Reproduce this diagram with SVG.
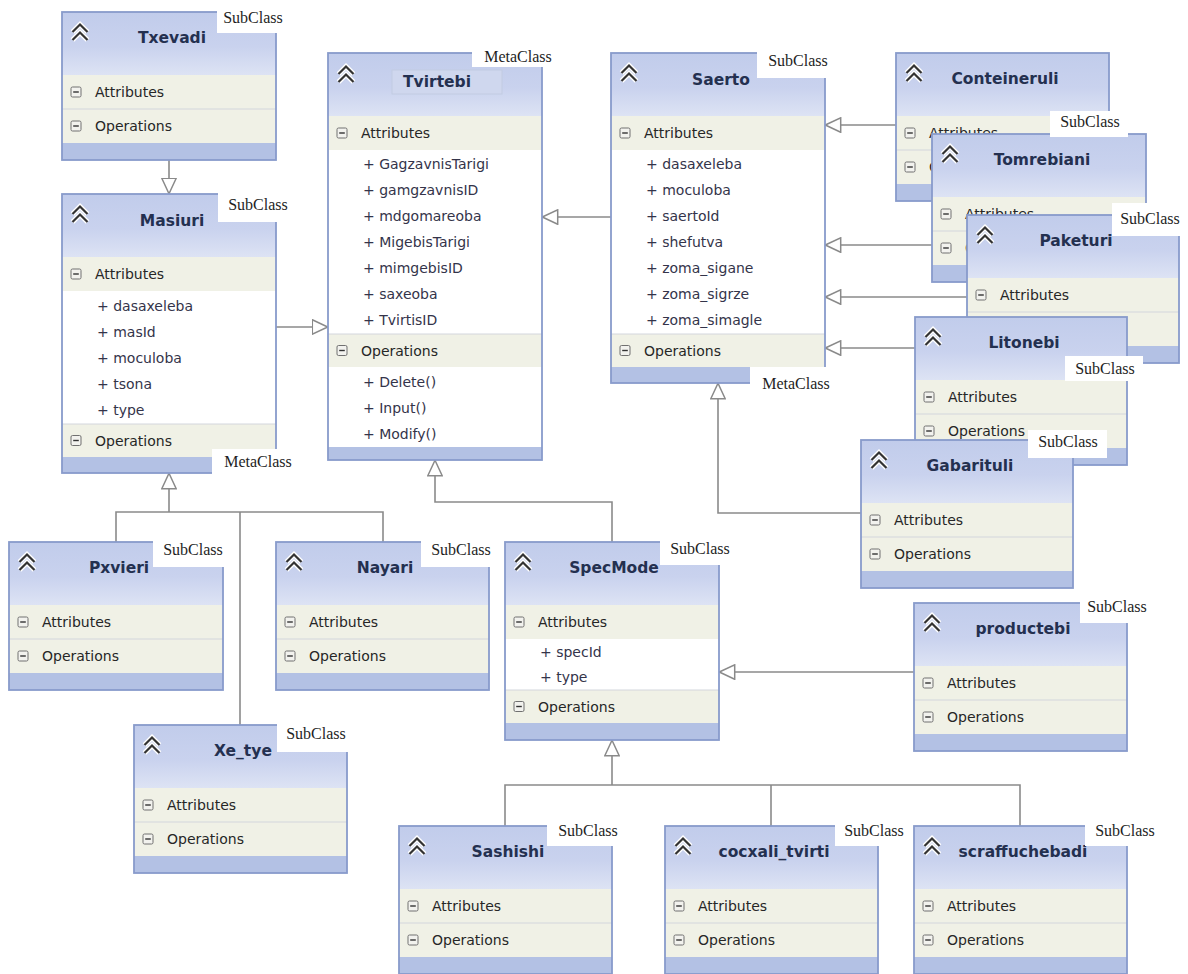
<svg xmlns="http://www.w3.org/2000/svg" xmlns:xlink="http://www.w3.org/1999/xlink" width="1188" height="974" viewBox="0 0 1188 974">
<style>
.hdr{fill:url(#hdrGrad)}
.cmp{fill:#f0f1e6}
.band{fill:#b3c1e4}
.frame{fill:none;stroke:#889bcb;stroke-width:1.8}
.body{fill:#ffffff}
.sep{stroke:#d3d6dc;stroke-width:1}
.t{font-family:"DejaVu Sans",sans-serif;font-size:15.5px;font-weight:bold;fill:#243050;text-anchor:middle}
.c{font-family:"DejaVu Sans",sans-serif;font-size:14px;fill:#262626}
.i{font-family:"DejaVu Sans",sans-serif;font-size:14px;fill:#34344a}
.lb{fill:#ffffff}
.l{font-family:"Liberation Serif",serif;font-size:16px;fill:#1e1e1e;text-anchor:middle}
.conn{fill:none;stroke:#8a8a8a;stroke-width:1.6}
.hl{fill:#cfd7ee;stroke:#c2cbe2;stroke-width:1}
</style>
<defs>
<linearGradient id="hdrGrad" x1="0" y1="0" x2="0" y2="1">
<stop offset="0" stop-color="#c1cceb"/>
<stop offset="0.55" stop-color="#c9d2ee"/>
<stop offset="1" stop-color="#dde3f4"/>
</linearGradient>
<marker id="tri" viewBox="0 0 17 16" refX="16.5" refY="8" markerWidth="17" markerHeight="16" markerUnits="userSpaceOnUse" orient="auto">
<path d="M0.8,0.8 L16.2,8 L0.8,15.2 Z" fill="#ffffff" stroke="#8a8a8a" stroke-width="1.5"/>
</marker>
<g id="chev">
<path d="M-7.5,0 L0,-7.5 L7.5,0 M-7.5,8 L0,0.5 L7.5,8" fill="none" stroke="#ffffff" stroke-width="5"/>
<path d="M-7.5,0 L0,-7.5 L7.5,0 M-7.5,8 L0,0.5 L7.5,8" fill="none" stroke="#333333" stroke-width="2.2"/>
</g>
<g id="minus">
<rect x="0" y="0" width="10" height="10" rx="1.5" fill="#f2f2ee" stroke="#707070" stroke-width="1"/>
<path d="M2.2,5 H7.8" stroke="#333333" stroke-width="1.4"/>
</g>
</defs>
<rect x="0" y="0" width="1188" height="974" fill="#ffffff"/>

<!-- generalisation connectors -->
<g id="connectors" class="conn">
<path d="M169,160 V194" marker-end="url(#tri)"/>
<path d="M276,327 H328" marker-end="url(#tri)"/>
<path d="M611,217 H542" marker-end="url(#tri)"/>
<path d="M896,125 H825" marker-end="url(#tri)"/>
<path d="M932,245 H825" marker-end="url(#tri)"/>
<path d="M967,297 H825" marker-end="url(#tri)"/>
<path d="M915,348 H825" marker-end="url(#tri)"/>
<path d="M861,513 H718 V383" marker-end="url(#tri)"/>
<path d="M612,542 V502 H435 V460" marker-end="url(#tri)"/>
<path d="M116,542 V512 H383 V542"/>
<path d="M240,725 V512"/>
<path d="M169,512 V473" marker-end="url(#tri)"/>
<path d="M914,672 H719" marker-end="url(#tri)"/>
<path d="M505,826 V785 H1020 V826"/>
<path d="M771,826 V785"/>
<path d="M612,785 V740" marker-end="url(#tri)"/>
</g>

<g id="Txevadi">
<rect class="body" x="62" y="12" width="214" height="148"/>
<rect class="hdr" x="62" y="12" width="214" height="63"/>
<rect class="cmp" x="62" y="75" width="214" height="34"/>
<rect class="cmp" x="62" y="109" width="214" height="34"/>
<rect class="band" x="62" y="143" width="214" height="17"/>
<line class="sep" x1="62" y1="109" x2="276" y2="109"/>
<rect class="frame" x="62" y="12" width="214" height="148"/>
<use xlink:href="#chev" x="80" y="32"/>
<text class="t" x="172" y="43">Txevadi</text>
<use xlink:href="#minus" x="71" y="87"/><text class="c" x="95" y="97">Attributes</text>
<use xlink:href="#minus" x="71" y="121"/><text class="c" x="95" y="131">Operations</text>
<rect class="lb" x="217" y="4" width="72" height="29"/><text class="l" x="253" y="23">SubClass</text>
</g>

<g id="Masiuri">
<rect class="body" x="62" y="194" width="214" height="279"/>
<rect class="hdr" x="62" y="194" width="214" height="63"/>
<rect class="cmp" x="62" y="257" width="214" height="34"/>
<rect class="cmp" x="62" y="424" width="214" height="33"/>
<rect class="band" x="62" y="457" width="214" height="16"/>
<line class="sep" x1="62" y1="424" x2="276" y2="424"/>
<rect class="frame" x="62" y="194" width="214" height="279"/>
<use xlink:href="#chev" x="80" y="214"/>
<text class="t" x="172" y="226">Masiuri</text>
<use xlink:href="#minus" x="71" y="269"/><text class="c" x="95" y="279">Attributes</text>
<text class="i" x="97" y="311">+ dasaxeleba</text>
<text class="i" x="97" y="337">+ masId</text>
<text class="i" x="97" y="363">+ moculoba</text>
<text class="i" x="97" y="389">+ tsona</text>
<text class="i" x="97" y="415">+ type</text>
<use xlink:href="#minus" x="71" y="435.5"/><text class="c" x="95" y="445.5">Operations</text>
<rect class="lb" x="218" y="186" width="74" height="36"/><text class="l" x="258" y="210">SubClass</text>
<rect class="lb" x="212" y="449" width="88" height="27"/><text class="l" x="258" y="467">MetaClass</text>
</g>

<g id="Tvirtebi">
<rect class="body" x="328" y="53" width="214" height="407"/>
<rect class="hdr" x="328" y="53" width="214" height="63"/>
<rect class="cmp" x="328" y="116" width="214" height="34"/>
<rect class="cmp" x="328" y="334" width="214" height="33"/>
<rect class="band" x="328" y="447" width="214" height="13"/>
<line class="sep" x1="328" y1="334" x2="542" y2="334"/>
<rect class="frame" x="328" y="53" width="214" height="407"/>
<rect class="hl" x="392" y="70" width="110" height="24"/>
<use xlink:href="#chev" x="346" y="74"/>
<text class="t" x="437" y="87">Tvirtebi</text>
<use xlink:href="#minus" x="337" y="128"/><text class="c" x="361" y="138">Attributes</text>
<text class="i" x="363" y="169">+ GagzavnisTarigi</text>
<text class="i" x="363" y="195">+ gamgzavnisID</text>
<text class="i" x="363" y="221">+ mdgomareoba</text>
<text class="i" x="363" y="247">+ MigebisTarigi</text>
<text class="i" x="363" y="273">+ mimgebisID</text>
<text class="i" x="363" y="299">+ saxeoba</text>
<text class="i" x="363" y="325">+ TvirtisID</text>
<use xlink:href="#minus" x="337" y="345.5"/><text class="c" x="361" y="355.5">Operations</text>
<text class="i" x="363" y="387">+ Delete()</text>
<text class="i" x="363" y="413">+ Input()</text>
<text class="i" x="363" y="439">+ Modify()</text>
<rect class="lb" x="472" y="42" width="88" height="25"/><text class="l" x="518" y="62">MetaClass</text>
</g>

<g id="Saerto">
<rect class="body" x="611" y="53" width="214" height="330"/>
<rect class="hdr" x="611" y="53" width="214" height="63"/>
<rect class="cmp" x="611" y="116" width="214" height="34"/>
<rect class="cmp" x="611" y="334" width="214" height="33"/>
<rect class="band" x="611" y="367" width="214" height="16"/>
<line class="sep" x1="611" y1="334" x2="825" y2="334"/>
<rect class="frame" x="611" y="53" width="214" height="330"/>
<use xlink:href="#chev" x="629" y="73"/>
<text class="t" x="721" y="85">Saerto</text>
<use xlink:href="#minus" x="620" y="128"/><text class="c" x="644" y="138">Attributes</text>
<text class="i" x="646" y="169">+ dasaxeleba</text>
<text class="i" x="646" y="195">+ moculoba</text>
<text class="i" x="646" y="221">+ saertoId</text>
<text class="i" x="646" y="247">+ shefutva</text>
<text class="i" x="646" y="273">+ zoma_sigane</text>
<text class="i" x="646" y="299">+ zoma_sigrze</text>
<text class="i" x="646" y="325">+ zoma_simagle</text>
<use xlink:href="#minus" x="620" y="345.5"/><text class="c" x="644" y="355.5">Operations</text>
<rect class="lb" x="757" y="44" width="77" height="34"/><text class="l" x="798" y="66">SubClass</text>
<rect class="lb" x="750" y="367" width="86" height="28"/><text class="l" x="796" y="389">MetaClass</text>
</g>

<g id="Conteineruli">
<rect class="hdr" x="896" y="53" width="213" height="63"/>
<rect class="cmp" x="896" y="116" width="213" height="34"/>
<rect class="cmp" x="896" y="150" width="213" height="34"/>
<rect class="band" x="896" y="184" width="213" height="17"/>
<line class="sep" x1="896" y1="150" x2="1109" y2="150"/>
<rect class="frame" x="896" y="53" width="213" height="148"/>
<use xlink:href="#chev" x="914" y="73"/>
<text class="t" x="1005" y="84">Conteineruli</text>
<use xlink:href="#minus" x="905" y="128"/><text class="c" x="929" y="138">Attributes</text>
<use xlink:href="#minus" x="905" y="162"/><text class="c" x="929" y="172">Operations</text>
</g>

<g id="Tomrebiani">
<rect class="hdr" x="932" y="134" width="214" height="63"/>
<rect class="cmp" x="932" y="197" width="214" height="34"/>
<rect class="cmp" x="932" y="231" width="214" height="34"/>
<rect class="band" x="932" y="265" width="214" height="17"/>
<line class="sep" x1="932" y1="231" x2="1146" y2="231"/>
<rect class="frame" x="932" y="134" width="214" height="148"/>
<use xlink:href="#chev" x="950" y="154"/>
<text class="t" x="1042" y="165">Tomrebiani</text>
<use xlink:href="#minus" x="941" y="209"/><text class="c" x="965" y="219">Attributes</text>
<use xlink:href="#minus" x="941" y="243"/><text class="c" x="965" y="253">Operations</text>
<rect class="lb" x="1050" y="111" width="78" height="26"/><text class="l" x="1090" y="127">SubClass</text>
</g>

<!-- lower compartment of this class lies under Litonebi -->
<g id="Paketuri">
<rect class="hdr" x="967" y="215" width="212" height="63"/>
<rect class="cmp" x="967" y="278" width="212" height="34"/>
<rect class="cmp" x="967" y="312" width="212" height="34"/>
<rect class="band" x="967" y="346" width="212" height="17"/>
<line class="sep" x1="967" y1="312" x2="1179" y2="312"/>
<rect class="frame" x="967" y="215" width="212" height="148"/>
<use xlink:href="#chev" x="985" y="235"/>
<text class="t" x="1076" y="246">Paketuri</text>
<use xlink:href="#minus" x="976" y="290"/><text class="c" x="1000" y="300">Attributes</text>
<rect class="lb" x="1112" y="203" width="76" height="33"/><text class="l" x="1150" y="224">SubClass</text>
</g>

<g id="Litonebi">
<rect class="hdr" x="915" y="317" width="212" height="63"/>
<rect class="cmp" x="915" y="380" width="212" height="34"/>
<rect class="cmp" x="915" y="414" width="212" height="34"/>
<rect class="band" x="915" y="448" width="212" height="17"/>
<line class="sep" x1="915" y1="414" x2="1127" y2="414"/>
<rect class="frame" x="915" y="317" width="212" height="148"/>
<use xlink:href="#chev" x="933" y="337"/>
<text class="t" x="1024" y="348">Litonebi</text>
<use xlink:href="#minus" x="924" y="392"/><text class="c" x="948" y="402">Attributes</text>
<use xlink:href="#minus" x="924" y="426"/><text class="c" x="948" y="436">Operations</text>
<rect class="lb" x="1065" y="356" width="78" height="25"/><text class="l" x="1105" y="374">SubClass</text>
</g>

<g id="Gabarituli">
<rect class="hdr" x="861" y="440" width="212" height="63"/>
<rect class="cmp" x="861" y="503" width="212" height="34"/>
<rect class="cmp" x="861" y="537" width="212" height="34"/>
<rect class="band" x="861" y="571" width="212" height="17"/>
<line class="sep" x1="861" y1="537" x2="1073" y2="537"/>
<rect class="frame" x="861" y="440" width="212" height="148"/>
<use xlink:href="#chev" x="879" y="460"/>
<text class="t" x="970" y="471">Gabarituli</text>
<use xlink:href="#minus" x="870" y="515"/><text class="c" x="894" y="525">Attributes</text>
<use xlink:href="#minus" x="870" y="549"/><text class="c" x="894" y="559">Operations</text>
<rect class="lb" x="1028" y="430" width="79" height="28"/><text class="l" x="1068" y="447">SubClass</text>
</g>

<g id="productebi">
<rect class="hdr" x="914" y="603" width="213" height="63"/>
<rect class="cmp" x="914" y="666" width="213" height="34"/>
<rect class="cmp" x="914" y="700" width="213" height="34"/>
<rect class="band" x="914" y="734" width="213" height="17"/>
<line class="sep" x1="914" y1="700" x2="1127" y2="700"/>
<rect class="frame" x="914" y="603" width="213" height="148"/>
<use xlink:href="#chev" x="932" y="623"/>
<text class="t" x="1023" y="634">productebi</text>
<use xlink:href="#minus" x="923" y="678"/><text class="c" x="947" y="688">Attributes</text>
<use xlink:href="#minus" x="923" y="712"/><text class="c" x="947" y="722">Operations</text>
<rect class="lb" x="1080" y="596" width="72" height="27"/><text class="l" x="1117" y="612">SubClass</text>
</g>

<g id="SpecMode">
<rect class="body" x="505" y="542" width="214" height="198"/>
<rect class="hdr" x="505" y="542" width="214" height="63"/>
<rect class="cmp" x="505" y="605" width="214" height="34"/>
<rect class="cmp" x="505" y="690" width="214" height="33"/>
<rect class="band" x="505" y="723" width="214" height="17"/>
<line class="sep" x1="505" y1="690" x2="719" y2="690"/>
<rect class="frame" x="505" y="542" width="214" height="198"/>
<use xlink:href="#chev" x="523" y="562"/>
<text class="t" x="614" y="573">SpecMode</text>
<use xlink:href="#minus" x="514" y="617"/><text class="c" x="538" y="627">Attributes</text>
<text class="i" x="540" y="657">+ specId</text>
<text class="i" x="540" y="682">+ type</text>
<use xlink:href="#minus" x="514" y="701.5"/><text class="c" x="538" y="711.5">Operations</text>
<rect class="lb" x="660" y="536" width="76" height="29"/><text class="l" x="700" y="554">SubClass</text>
</g>

<g id="Pxvieri">
<rect class="hdr" x="9" y="542" width="214" height="63"/>
<rect class="cmp" x="9" y="605" width="214" height="34"/>
<rect class="cmp" x="9" y="639" width="214" height="34"/>
<rect class="band" x="9" y="673" width="214" height="17"/>
<line class="sep" x1="9" y1="639" x2="223" y2="639"/>
<rect class="frame" x="9" y="542" width="214" height="148"/>
<use xlink:href="#chev" x="27" y="562"/>
<text class="t" x="119" y="573">Pxvieri</text>
<use xlink:href="#minus" x="18" y="617"/><text class="c" x="42" y="627">Attributes</text>
<use xlink:href="#minus" x="18" y="651"/><text class="c" x="42" y="661">Operations</text>
<rect class="lb" x="153" y="536" width="75" height="31"/><text class="l" x="193" y="555">SubClass</text>
</g>

<g id="Nayari">
<rect class="hdr" x="276" y="542" width="213" height="63"/>
<rect class="cmp" x="276" y="605" width="213" height="34"/>
<rect class="cmp" x="276" y="639" width="213" height="34"/>
<rect class="band" x="276" y="673" width="213" height="17"/>
<line class="sep" x1="276" y1="639" x2="489" y2="639"/>
<rect class="frame" x="276" y="542" width="213" height="148"/>
<use xlink:href="#chev" x="294" y="562"/>
<text class="t" x="385" y="573">Nayari</text>
<use xlink:href="#minus" x="285" y="617"/><text class="c" x="309" y="627">Attributes</text>
<use xlink:href="#minus" x="285" y="651"/><text class="c" x="309" y="661">Operations</text>
<rect class="lb" x="421" y="536" width="74" height="31"/><text class="l" x="461" y="555">SubClass</text>
</g>

<g id="Xe_tye">
<rect class="hdr" x="134" y="725" width="213" height="63"/>
<rect class="cmp" x="134" y="788" width="213" height="34"/>
<rect class="cmp" x="134" y="822" width="213" height="34"/>
<rect class="band" x="134" y="856" width="213" height="17"/>
<line class="sep" x1="134" y1="822" x2="347" y2="822"/>
<rect class="frame" x="134" y="725" width="213" height="148"/>
<use xlink:href="#chev" x="152" y="745"/>
<text class="t" x="243" y="756">Xe_tye</text>
<use xlink:href="#minus" x="143" y="800"/><text class="c" x="167" y="810">Attributes</text>
<use xlink:href="#minus" x="143" y="834"/><text class="c" x="167" y="844">Operations</text>
<rect class="lb" x="277" y="719" width="73" height="33"/><text class="l" x="316" y="739">SubClass</text>
</g>

<g id="Sashishi">
<rect class="hdr" x="399" y="826" width="213" height="63"/>
<rect class="cmp" x="399" y="889" width="213" height="34"/>
<rect class="cmp" x="399" y="923" width="213" height="34"/>
<rect class="band" x="399" y="957" width="213" height="17"/>
<line class="sep" x1="399" y1="923" x2="612" y2="923"/>
<rect class="frame" x="399" y="826" width="213" height="148"/>
<use xlink:href="#chev" x="417" y="846"/>
<text class="t" x="508" y="857">Sashishi</text>
<use xlink:href="#minus" x="408" y="901"/><text class="c" x="432" y="911">Attributes</text>
<use xlink:href="#minus" x="408" y="935"/><text class="c" x="432" y="945">Operations</text>
<rect class="lb" x="547" y="818" width="75" height="28"/><text class="l" x="588" y="836">SubClass</text>
</g>

<g id="cocxali_tvirti">
<rect class="hdr" x="665" y="826" width="213" height="63"/>
<rect class="cmp" x="665" y="889" width="213" height="34"/>
<rect class="cmp" x="665" y="923" width="213" height="34"/>
<rect class="band" x="665" y="957" width="213" height="17"/>
<line class="sep" x1="665" y1="923" x2="878" y2="923"/>
<rect class="frame" x="665" y="826" width="213" height="148"/>
<use xlink:href="#chev" x="683" y="846"/>
<text class="t" x="774" y="857">cocxali_tvirti</text>
<use xlink:href="#minus" x="674" y="901"/><text class="c" x="698" y="911">Attributes</text>
<use xlink:href="#minus" x="674" y="935"/><text class="c" x="698" y="945">Operations</text>
<rect class="lb" x="835" y="818" width="75" height="28"/><text class="l" x="874" y="836">SubClass</text>
</g>

<g id="scraffuchebadi">
<rect class="hdr" x="914" y="826" width="213" height="63"/>
<rect class="cmp" x="914" y="889" width="213" height="34"/>
<rect class="cmp" x="914" y="923" width="213" height="34"/>
<rect class="band" x="914" y="957" width="213" height="17"/>
<line class="sep" x1="914" y1="923" x2="1127" y2="923"/>
<rect class="frame" x="914" y="826" width="213" height="148"/>
<use xlink:href="#chev" x="932" y="846"/>
<text class="t" x="1023" y="857">scraffuchebadi</text>
<use xlink:href="#minus" x="923" y="901"/><text class="c" x="947" y="911">Attributes</text>
<use xlink:href="#minus" x="923" y="935"/><text class="c" x="947" y="945">Operations</text>
<rect class="lb" x="1085" y="818" width="77" height="28"/><text class="l" x="1125" y="836">SubClass</text>
</g>
</svg>
